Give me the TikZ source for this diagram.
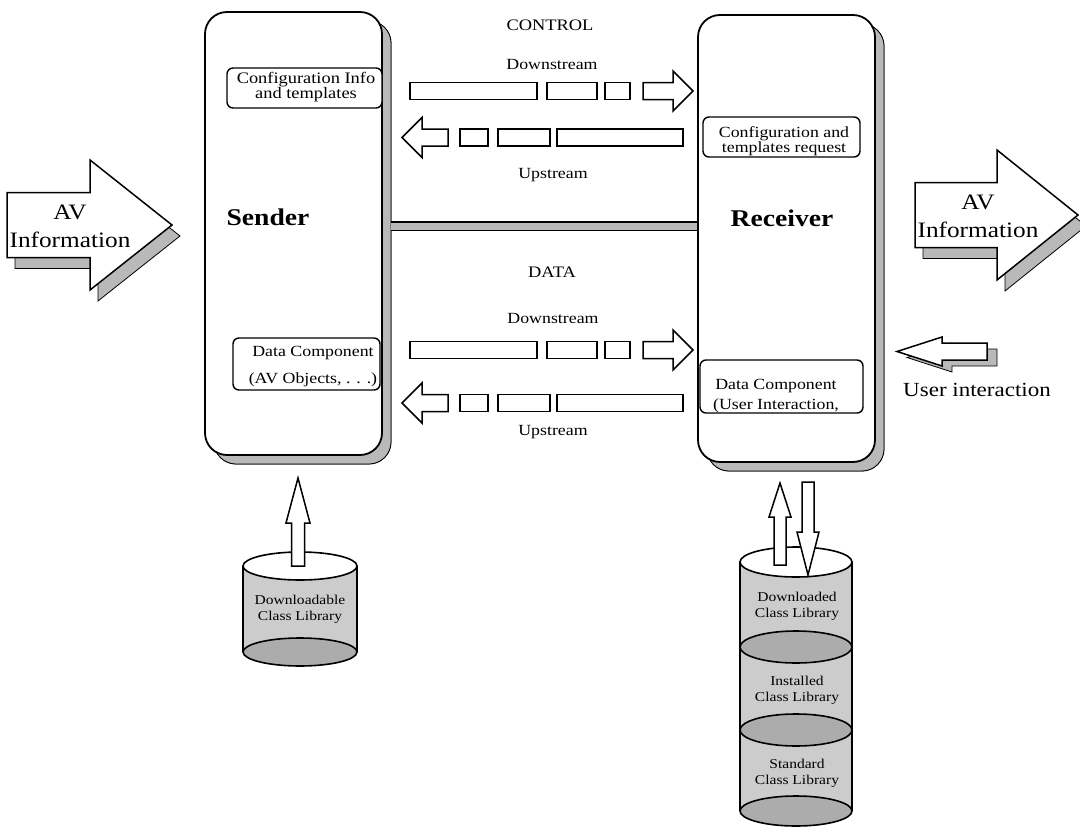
\documentclass[tikz,border=0pt]{standalone}
\usepackage{fontspec}
\setmainfont{Liberation Serif}[FakeStretch=1.15]
\newcommand{\barR}[7]{\path[#1] (#2,#4-#5) -- (#3-#7,#4-#5) -- (#3-#7,#4-#6) -- (#3,#4) -- (#3-#7,#4+#6) -- (#3-#7,#4+#5) -- (#2,#4+#5) -- cycle;}
\newcommand{\barL}[7]{\path[#1] (#2,#4-#5) -- (#3+#7,#4-#5) -- (#3+#7,#4-#6) -- (#3,#4) -- (#3+#7,#4+#6) -- (#3+#7,#4+#5) -- (#2,#4+#5) -- cycle;}
\newcommand{\barU}[7]{\path[#1] (#2-#5,#3) -- (#2-#5,#4+#7) -- (#2-#6,#4+#7) -- (#2,#4) -- (#2+#6,#4+#7) -- (#2+#5,#4+#7) -- (#2+#5,#3) -- cycle;}
\newcommand{\barD}[7]{\path[#1] (#2-#5,#3) -- (#2-#5,#4-#7) -- (#2-#6,#4-#7) -- (#2,#4) -- (#2+#6,#4-#7) -- (#2+#5,#4-#7) -- (#2+#5,#3) -- cycle;}
\begin{document}
\begin{tikzpicture}[x=1pt,y=-1pt,line join=miter,
  blk/.style={draw=black,line width=1.5pt,fill=white},
  shd/.style={fill=gray!55,draw=black,line width=0.8pt},
  mainbox/.style={draw,line width=1.8pt,rounded corners=22pt,fill=white,minimum width=177pt,inner sep=0pt},
  subbox/.style={draw,line width=1.4pt,rounded corners=6pt,fill=white,inner sep=0pt},
  lbl/.style={inner sep=0pt,font=\fontsize{15.5}{18}\selectfont},
  big/.style={inner sep=0pt,font=\fontsize{24}{28}\selectfont\bfseries},
  avtext/.style={inner sep=0pt,align=center,font=\fontsize{22}{28}\selectfont},
  cyltext/.style={inner sep=0pt,align=center,font=\fontsize{13.5}{16}\selectfont},
  cylbody/.style={fill=gray!40},
  cylline/.style={draw=black,line width=1.6pt},
  barouter/.style={line width=10pt,black},
  barinner/.style={line width=7pt,gray!55}]
\useasboundingbox (0,0) rectangle (1080,827);

% shadows of the main boxes
\fill[shd,rounded corners=22pt] (214,21) rectangle (391,464);
\fill[shd,rounded corners=22pt] (707,24) rectangle (884,471);
\draw[shd,rounded corners=22pt] (214,21) rectangle (391,464);
\draw[shd,rounded corners=22pt] (707,24) rectangle (884,471);

% main boxes
\node[mainbox,minimum height=443pt] (sender) at (293.5,233.5) {};
\node[mainbox,minimum height=447pt] (receiver) at (786.5,238.5) {};
\node[big] (sendlbl) at (268,217) {Sender};
\node[big] (recvlbl) at (782,218) {Receiver};

% inner boxes
\node[subbox,minimum width=155pt,minimum height=40pt] (cfgL) at (304.5,88) {};
\node[lbl,align=center,font=\fontsize{16}{13}\selectfont] (cfgLt) at (306,87) {Configuration Info\\and templates};
\node[subbox,minimum width=147pt,minimum height=52pt] (datL) at (306.5,364) {};
\node[lbl,align=center,font=\fontsize{15.5}{27}\selectfont] (datLt) at (313,367) {Data Component\\(AV Objects, . . .)};
\node[subbox,minimum width=157pt,minimum height=40pt] (cfgR) at (781.5,137) {};
\node[lbl,align=center,font=\fontsize{15.5}{13}\selectfont] (cfgRt) at (784,141) {Configuration and\\templates request};
\node[subbox,minimum width=163pt,minimum height=53pt] (datR) at (781.5,386.5) {};
\node[lbl,align=center,font=\fontsize{15.5}{20}\selectfont] (datRt) at (776,396) {Data Component\\(User Interaction,};

% bar between sender and receiver
\coordinate (barL) at (391,226);
\coordinate (barR) at (receiver.west |- barL);
\draw[barouter] (barL) -- (barR);
\draw[barinner] (barL) -- (barR);

% labels
\node[lbl,font=\fontsize{16}{18}\selectfont] (ctl) at (550,25) {CONTROL};
\node[lbl] (cdown) at (552,65) {Downstream};
\node[lbl] (cup) at (553,175) {Upstream};
\node[lbl,font=\fontsize{16}{18}\selectfont] (dat) at (552,272) {DATA};
\node[lbl] (ddown) at (553,318) {Downstream};
\node[lbl] (dup) at (553,432) {Upstream};

% control downstream
\draw[blk] (410,82.5) rectangle (537,99.5);
\draw[blk] (547,82.5) rectangle (597,99.5);
\draw[blk] (605,82.5) rectangle (630,99.5);
\barR{blk}{643}{693}{91}{8.5}{20}{20}
% control upstream
\barL{blk}{448}{402}{137.5}{8.5}{20}{20}
\draw[blk] (460,129) rectangle (488,146);
\draw[blk] (498,129) rectangle (550,146);
\draw[blk] (557,129) rectangle (683,146);
% data downstream
\draw[blk] (410,341.5) rectangle (537,358.5);
\draw[blk] (547,341.5) rectangle (597,358.5);
\draw[blk] (605,341.5) rectangle (630,358.5);
\barR{blk}{643}{693}{350}{8.5}{20}{20}
% data upstream
\barL{blk}{448}{402}{403}{8.5}{20}{20}
\draw[blk] (460,394.5) rectangle (488,411.5);
\draw[blk] (498,394.5) rectangle (550,411.5);
\draw[blk] (557,394.5) rectangle (683,411.5);

% AV information arrows
\barR{shd,shift={(8,11)}}{7}{172}{225}{32.5}{65}{82}
\barR{blk}{7}{172}{225}{32.5}{65}{82}
\node[avtext] (avL) at (70,226) {AV\\Information};
\barR{shd,shift={(8,11)}}{915}{1078}{215}{32.5}{65}{81}
\barR{blk}{915}{1078}{215}{32.5}{65}{81}
\node[avtext] (avR) at (978,216) {AV\\Information};

% user interaction
\barL{shd,shift={(10,6)}}{987}{897}{351.5}{8.5}{14.5}{45}
\barL{blk}{987}{897}{351.5}{8.5}{14.5}{45}
\node[inner sep=0pt,font=\fontsize{20}{24}\selectfont] (user) at (977,390) {User interaction};

% left cylinder
\fill[cylbody] (243,566) rectangle (357,652);
\draw[cylline,fill=gray!65] (300,652) ellipse [x radius=57,y radius=14];
\draw[cylline,fill=white] (300,566) ellipse [x radius=57,y radius=14];
\draw[cylline] (243,566) -- (243,652) (357,566) -- (357,652);
\node[cyltext] (dlib) at (300,609) {Downloadable\\Class Library};

% right cylinder
\fill[cylbody] (740,562) rectangle (852,811);
\draw[cylline,fill=gray!65] (796,811) ellipse [x radius=56,y radius=15];
\draw[cylline,fill=gray!65] (796,730) ellipse [x radius=56,y radius=16];
\draw[cylline,fill=gray!65] (796,647) ellipse [x radius=56,y radius=16];
\draw[cylline,fill=white] (796,562) ellipse [x radius=56,y radius=15];
\draw[cylline] (740,562) -- (740,811) (852,562) -- (852,811);
\node[cyltext] (dllib) at (797,606) {Downloaded\\Class Library};
\node[cyltext] (inlib) at (797,690) {Installed\\Class Library};
\node[cyltext] (stlib) at (797,773) {Standard\\Class Library};

% vertical arrows
\barU{blk}{298}{566}{478}{6.5}{12}{45}
\barU{blk}{780}{565}{483}{6}{11}{34}
\barD{blk}{808}{482}{575}{6}{11}{43}
\end{tikzpicture}
\end{document}
